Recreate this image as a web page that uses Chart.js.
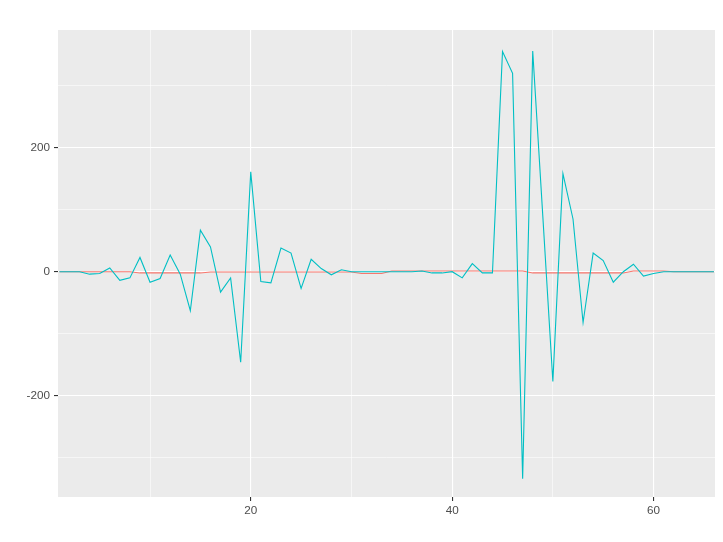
<!DOCTYPE html>
<html>
<head>
<meta charset="utf-8">
<script src="https://cdn.jsdelivr.net/npm/chart.js@4.4.0/dist/chart.umd.min.js"></script>
<style>
  html, body { margin: 0; padding: 0; background: #ffffff; }
  #chart { display: block; }
</style>
</head>
<body>
<canvas id="chart" width="723" height="542"></canvas>
<script>
// datos
const xValues = [];
for (let i = 1; i <= 66; i++) xValues.push(i);

const seriesCyan = [
  0, 0, 0, -4, -3, 6, -14, -10, 23, -17,
  -11, 27, -4, -63, 67, 40, -33, -10, -146, 161,
  -16, -18, 38, 30, -27, 20, 5, -5, 3, 0,
  0, 0, 0, 0, 0, 0, 1, -2, -2, 0,
  -10, 13, -2, -2, 355, 320, -334, 356, 90, -177,
  158, 85, -82, 30, 18, -17, 0, 12, -7, -3,
  0, 0, 0, 0, 0, 0
];

const seriesRed = [
  0, 0, 0, 0, 0, 0, 0, 0, -2, -2,
  -2, -2, -2, -2, -2, -0.5, -0.5, -0.5, -0.5, -0.5,
  -0.5, -0.5, -0.5, -0.5, -0.5, -0.5, -0.5, -0.5, -0.5, -0.5,
  -3, -3, -3, 1, 1, 1, 1, 1, 1, 1,
  1, 1, 1, 1, 1, 1, 1, -2, -2, -2,
  -2, -2, -2, -2, -2, -2, -2, 1, 1, 1,
  1, 0, 0, 0, 0, 0
];

const xTicks = [10, 20, 30, 40, 50, 60];
const xLabelled = [20, 40, 60];
const yTicks = [-300, -200, -100, 0, 100, 200, 300];
const yLabelled = [-200, 0, 200];

function toPoints(values) {
  return xValues.map((x, i) => ({ x: x, y: values[i] }));
}

// fondo gris del panel
const panelBg = {
  id: 'panelBg',
  beforeDraw(chart) {
    const { ctx, chartArea: a } = chart;
    ctx.save();
    ctx.fillStyle = '#EBEBEB';
    ctx.fillRect(a.left, a.top, a.right - a.left, a.bottom - a.top);
    ctx.restore();
  }
};

function gridOpts(labelled) {
  return {
    color: '#FFFFFF',
    lineWidth: ctx => labelled.includes(ctx.tick?.value) ? 1.1 : 0.55,
    tickColor: ctx => labelled.includes(ctx.tick?.value) ? '#333333' : 'rgba(0,0,0,0)',
    tickLength: 4,
    tickWidth: 1.1,
    drawTicks: true,
    drawOnChartArea: true
  };
}

const ctx = document.getElementById('chart').getContext('2d');
new Chart(ctx, {
  type: 'line',
  data: {
    datasets: [
      {
        data: toPoints(seriesCyan),
        borderColor: '#00BFC4',
        borderWidth: 1.1,
        pointRadius: 0,
        tension: 0,
        order: 0
      },
      {
        data: toPoints(seriesRed),
        borderColor: '#F8766D',
        borderWidth: 1.1,
        pointRadius: 0,
        tension: 0,
        order: 1
      }
    ]
  },
  plugins: [panelBg],
  options: {
    responsive: false,
    animation: false,
    layout: { padding: { top: 30, right: 8, left: 0, bottom: 0 } },
    plugins: {
      legend: { display: false },
      tooltip: { enabled: false }
    },
    scales: {
      x: {
        type: 'linear',
        min: 0.86,
        max: 66.1,
        border: { display: false },
        grid: gridOpts(xLabelled),
        afterBuildTicks: scale => { scale.ticks = xTicks.map(v => ({ value: v })); },
        afterFit: scale => { scale.height = 45; },
        ticks: {
          autoSkip: false,
          maxRotation: 0,
          padding: 3,
          color: '#4D4D4D',
          font: { family: 'Liberation Sans, Arial, sans-serif', size: 11.7 },
          callback: v => xLabelled.includes(v) ? String(v) : ''
        }
      },
      y: {
        type: 'linear',
        min: -363.4,
        max: 389.8,
        border: { display: false },
        grid: gridOpts(yLabelled),
        afterBuildTicks: scale => { scale.ticks = yTicks.map(v => ({ value: v })); },
        afterFit: scale => { scale.width = 58; },
        ticks: {
          autoSkip: false,
          padding: 4,
          color: '#4D4D4D',
          font: { family: 'Liberation Sans, Arial, sans-serif', size: 11.7 },
          callback: v => yLabelled.includes(v) ? String(v) : ''
        }
      }
    }
  }
});
</script>
</body>
</html>
